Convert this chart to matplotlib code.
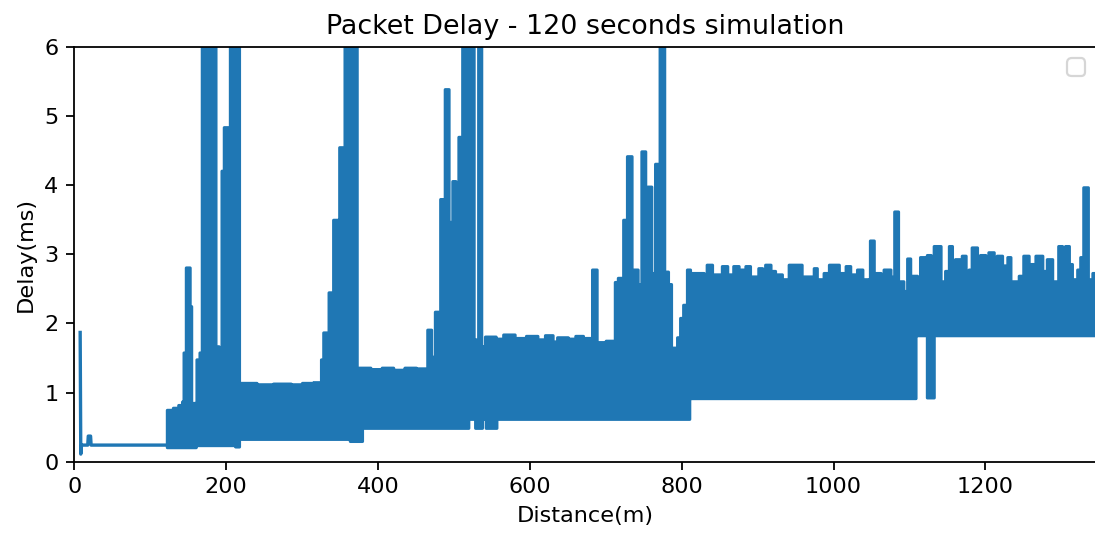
# Packet delay vs distance, 120 s simulation run.
# The dense part of the trace is drawn as a filled band (min/max envelope),
# the sparse start of the run as a plain line.

import numpy as np
import matplotlib
matplotlib.use('Agg')
import matplotlib.pyplot as plt

# start of the run, before the trace gets dense
head_dist = [7.8, 8.6, 9.6, 17.8, 18.5, 21.5, 22.2, 122]
head_delay = [1.87, 0.11, 0.24, 0.24, 0.37, 0.37, 0.24, 0.24]

# upper envelope of the dense trace (step starts, ms); 6.5 = off the chart
top_dist = [122, 130, 137, 142, 144, 147, 152, 154, 161, 165, 168, 172, 175, 186, 190,
            194, 197, 205, 217, 240, 262, 285, 300, 315, 325, 328, 335, 341, 347, 349,
            356, 372, 390, 405, 420, 435, 450, 465, 470, 475, 482, 488, 493, 498, 502,
            506, 511, 526, 532, 536, 541, 555, 565, 580, 595, 610, 620, 630, 636, 650,
            660, 670, 682, 688, 700, 712, 716, 723, 728, 734, 742, 747, 752, 755, 760,
            765, 771, 777, 782, 786, 794, 798, 802, 807, 811, 829, 833, 840, 853, 860,
            868, 875, 884, 890, 901, 906, 910, 917, 923, 932, 941, 958, 974, 978, 987,
            994, 1007, 1016, 1022, 1031, 1038, 1046, 1048, 1053, 1062, 1066, 1075, 1080,
            1085, 1092, 1097, 1101, 1110, 1114, 1123, 1128, 1132, 1141, 1147, 1152, 1156,
            1160, 1169, 1174, 1178, 1182, 1189, 1193, 1200, 1204, 1211, 1215, 1222, 1229,
            1233, 1244, 1250, 1257, 1266, 1275, 1281, 1288, 1296, 1301, 1305, 1310, 1314,
            1321, 1325, 1329, 1335, 1341, 1346]
top_delay = [0.75, 0.78, 0.82, 0.87, 1.58, 2.81, 2.25, 0.85, 1.48, 1.58, 6.5, 4.38, 6.5, 1.67, 1.48,
             4.21, 4.84, 6.5, 1.14, 1.12, 1.13, 1.12, 1.14, 1.15, 1.48, 1.87, 2.45, 3.5, 3.38, 4.55,
             6.5, 1.36, 1.34, 1.36, 1.33, 1.36, 1.35, 1.91, 1.52, 2.17, 3.8, 5.39, 3.47, 4.06, 3.9,
             4.7, 6.5, 1.77, 6.5, 1.67, 1.81, 1.78, 1.84, 1.79, 1.82, 1.77, 1.83, 1.74, 1.8, 1.78,
             1.82, 1.79, 2.78, 1.73, 1.75, 2.6, 2.66, 3.5, 4.42, 2.78, 2.57, 4.49, 3.22, 3.98, 2.73,
             4.31, 6.5, 2.75, 2.57, 1.65, 1.8, 2.08, 2.27, 2.78, 2.73, 2.68, 2.85, 2.71, 2.83, 2.71,
             2.83, 2.78, 2.83, 2.68, 2.8, 2.53, 2.85, 2.76, 2.71, 2.64, 2.85, 2.68, 2.8, 2.64, 2.73,
             2.85, 2.73, 2.83, 2.71, 2.78, 2.64, 2.59, 3.2, 2.73, 2.59, 2.78, 2.68, 3.62,
             2.61, 2.47, 2.94, 2.69, 2.49, 2.96, 2.99, 2.59, 3.12, 2.61, 2.76, 3.12, 2.49,
             2.93, 2.98, 2.59, 2.78, 3.1, 2.69, 2.99, 2.45, 3.03, 2.43, 2.98, 2.84, 2.96,
             2.61, 2.69, 2.98, 2.86, 2.98, 2.76, 2.93, 2.61, 3.12, 2.42, 3.12, 2.86, 2.64,
             2.78, 2.96, 3.97, 2.64, 2.73, 2.73]

# lower envelope of the dense trace
low_dist = [122, 160, 212, 217, 363, 379, 519, 528, 537, 542, 556, 810, 1108, 1123, 1132, 1346]
low_delay = [0.21, 0.24, 0.22, 0.33, 0.30, 0.49, 0.62, 0.49, 0.62, 0.49, 0.62, 0.92, 1.83, 0.93,
             1.83, 1.83]

xtick_vals = [0, 200, 400, 600, 800, 1000, 1200]
ytick_vals = [0, 1, 2, 3, 4, 5, 6]


def envelope():
    '''put both step envelopes on a common set of step starts'''
    tx = np.array(top_dist, dtype=float)
    lx = np.array(low_dist, dtype=float)
    xs = np.union1d(tx, lx)
    hi = np.array(top_delay)[np.searchsorted(tx, xs, side='right') - 1]
    lo = np.array(low_delay)[np.searchsorted(lx, xs, side='right') - 1]
    return xs, lo, hi


def main():
    col = '#1f77b4'
    dpi = 161
    fig = plt.figure(figsize=(1095 / dpi, 533 / dpi), dpi=dpi)
    ax = fig.add_axes([0.0678, 0.1338, 0.9333, 0.778])

    xs, lo, hi = envelope()
    band = ax.fill_between(xs, lo, hi, step='post', color=col, linewidth=1.4)
    band.set_snap(False)
    ax.plot(head_dist, head_delay, color=col, linewidth=1.5)

    ax.set_xlim(0, 1346)
    ax.set_ylim(0, 6)
    ax.set_xticks(xtick_vals)
    ax.set_yticks(ytick_vals)
    ax.set_title('Packet Delay - 120 seconds simulation')
    ax.set_xlabel('Distance(m)')
    ax.set_ylabel('Delay(ms)')
    ax.legend(loc='upper right')

    fig.savefig('out.png', dpi=dpi)


if __name__ == '__main__':
    main()
